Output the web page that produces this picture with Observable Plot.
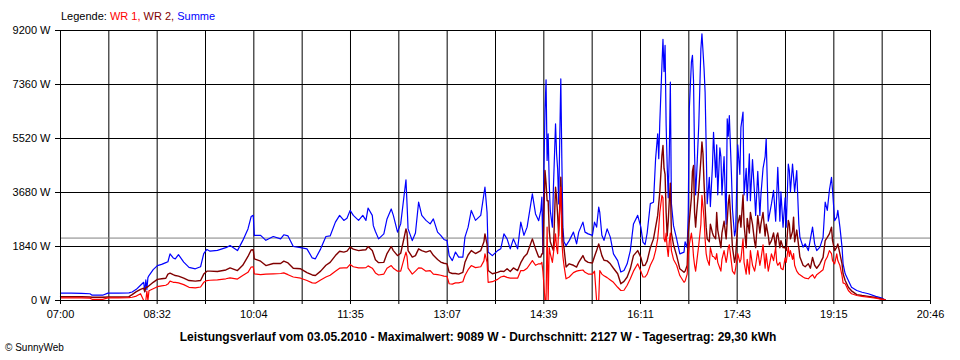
<!DOCTYPE html>
<html><head><meta charset="utf-8">
<script src="https://cdn.jsdelivr.net/npm/d3@7"></script>
<script src="https://cdn.jsdelivr.net/npm/@observablehq/plot@0.6"></script>
<style>
html,body{margin:0;padding:0;background:#fff;}
body{position:relative;width:960px;height:360px;overflow:hidden;font-family:"Liberation Sans",Arial,sans-serif;color:#000;}
#legend{position:absolute;left:61px;top:10px;font-size:11px;line-height:13px;white-space:nowrap;}
#chart{position:absolute;left:0;top:22px;}
#caption{position:absolute;left:0;top:330px;width:956px;text-align:center;font-size:12px;font-weight:bold;line-height:14px;white-space:nowrap;}
#copy{position:absolute;left:5px;top:342px;font-size:10px;line-height:12px;}
</style></head>
<body>
<div id="legend">Legende: <span style="color:#ff0000">WR 1,</span> <span style="color:#800000">WR 2,</span> <span style="color:#0000ff">Summe</span></div>
<div id="chart"></div>
<div id="caption">Leistungsverlauf vom 03.05.2010 - Maximalwert: 9089 W - Durchschnitt: 2127 W - Tagesertrag: 29,30 kWh</div>
<div id="copy">© SunnyWeb</div>
<script>
// minutes after 07:00
const minutes = [0,10,20,28,30,40,45,55,65,68,72,76,79,80,81,82,83,84,88,92,96,100,102,104,107,109,112,117,122,128,133,136,139,142,149,157,161,168,173,178,181,183,184,190,195,202,209,212,216,221,228,234,239,242,247,252,256,261,265,269,272,275,278,283,287,290,292,296,297,299,302,307,310,314,316,320,323,326,328,329,330,334,337,340,343,347,351,354,358,361,364,367,369,372,375,378,382,384,387,390,394,399,402,403,405,406,410,415,418,421,424,427,430,434,437,440,443,448,451,454,456,457,458,459,460,461,462,463,464,465,467,468,470,471,472,473,474,475,476,477,478,480,483,487,490,492,496,498,501,505,507,509,511,512,514,516,519,522,525,529,532,535,538,541,544,548,551,553,555,557,560,563,565,567,568,569,571,572,573,574,575,576,577,578,579,580,582,585,588,592,593,595,596,597,599,600,601,602,603,604,606,608,609,610,611,612,613,614,616,617,619,620,622,623,624,626,627,628,630,632,633,634,635,637,638,640,641,643,645,646,648,649,651,652,654,655,657,659,660,662,664,665,667,669,670,672,673,675,677,679,680,681,683,684,686,688,689,691,692,693,695,696,697,699,701,702,705,707,710,712,714,716,718,721,724,726,728,730,732,733,735,737,738,740,742,743,745,748,751,756,761,767,774,780,783];
// Summe (W)
const summe = [250,250,240,230,180,180,250,250,260,290,380,520,620,300,700,380,780,850,1050,1190,1230,1290,1320,1590,1450,1420,1560,1310,1130,1080,1150,1600,1740,1680,1710,1800,1870,1700,2040,2440,2860,2900,2220,2220,2050,2180,2100,2240,2200,1840,1800,1760,1450,1420,1760,2180,2200,2670,2900,2730,2800,3070,2900,2730,2900,2730,3150,2900,2550,2350,2100,2270,2780,3120,2900,2330,2610,3520,4110,3300,2440,2040,2300,3350,2900,2730,2610,2780,2330,2220,2080,2040,1530,1360,1650,1480,1480,2160,2500,3070,2730,2900,3630,3860,3000,1650,1530,1700,1760,2270,2100,1760,2100,1760,2670,2220,2500,3630,2950,2720,3060,3520,1590,4500,6470,7520,4770,5680,4000,3060,2500,3860,6020,5000,4480,3290,5500,7550,4770,2500,2000,1870,2040,2330,1930,2330,2670,2330,2270,2220,2670,2500,3180,3000,2220,2050,2440,2160,1590,1360,970,1020,1250,1700,2610,2900,2500,1990,1900,2300,3300,3350,4830,5680,4830,6080,8000,8900,7800,8690,6000,4600,3500,5000,7440,3300,2550,2100,1590,1650,2000,1800,3000,6530,8120,8350,7500,5000,3600,4300,6000,8570,9089,8500,7900,7100,5300,3300,4200,3200,4600,5730,4200,5300,3600,5200,4900,3600,4900,2600,6190,5600,6300,4300,3100,2200,2400,5300,4300,5900,6420,3600,4500,3400,5000,3400,4800,3600,2900,4400,2900,3600,4500,4900,5510,2700,2900,3290,3750,2700,3600,4540,2700,3700,2500,3500,2500,4650,4430,3700,4650,4200,3700,4430,2600,2160,1820,1930,1700,2100,2500,1930,1700,1820,2150,3350,3070,3750,4200,3750,2720,2840,3070,2500,1820,1250,910,680,450,340,280,230,140,80,20];
// WR 2 (W)
const wr2 = [130,130,130,120,110,110,120,120,130,200,300,380,420,300,450,450,470,500,620,720,740,760,900,930,880,850,830,760,680,660,680,900,1000,1000,990,1040,1110,1020,1200,1500,1720,1730,1420,1340,1190,1260,1260,1340,1280,1100,1080,950,870,850,1000,1200,1300,1530,1680,1650,1680,1820,1750,1700,1720,1730,1840,1700,1600,1390,1290,1300,1600,1840,1700,1530,1610,2100,2440,2300,1700,1480,1530,1760,1700,1650,1700,1540,1400,1310,1270,1250,960,920,920,900,960,1300,1550,1700,1600,1700,2000,2270,1900,1020,910,960,1000,990,1080,990,1110,1020,1290,1480,1590,2100,1760,1480,1480,1590,1600,3000,4430,4000,3400,3400,2400,2000,1800,1700,3860,3500,2900,2200,3200,4200,3000,2000,1800,1140,1250,1200,1140,1300,1530,1370,1300,1280,1500,1700,1930,1800,1530,1370,1350,1250,1100,910,570,650,800,1080,1530,1700,1470,1190,1200,1350,1800,2100,2500,2900,3300,3700,4940,5280,4500,4300,3000,2200,2700,3400,4000,2300,1900,1530,1080,960,1000,1200,2300,2700,3500,4400,4600,3000,2500,3000,3800,4800,5400,5000,4000,3200,2500,2100,2000,2600,2300,2200,2100,3000,2400,2000,1800,2300,2700,2100,2700,3300,3600,2400,1800,1300,1500,2600,2900,2500,3600,2600,1800,2800,2300,3000,2600,2000,1800,2900,2300,2600,3000,2200,2600,2200,1900,2040,2300,1800,2200,2300,1800,2040,1800,1800,1700,2730,2600,2100,2350,2840,2000,2400,1800,1480,1200,1150,1250,1100,1470,1200,1100,1250,1470,2040,2150,2270,2500,2040,1700,1820,1930,1590,1250,910,680,450,330,200,170,140,100,50,20];
// WR 1 (W)
const wr1 = [90,90,90,80,40,40,90,90,95,110,150,230,0,0,0,320,0,330,400,470,500,520,560,660,620,620,600,540,450,430,460,620,680,690,700,740,770,730,850,960,1140,1150,910,880,900,910,920,940,880,800,760,680,600,590,700,800,860,1000,1100,1110,1110,1230,1150,1110,1110,1120,1180,1100,1050,940,870,900,1100,1190,1100,1000,1000,1400,1650,1500,1100,900,1000,1110,1100,1000,1020,900,880,860,830,820,570,560,600,600,640,850,1050,1190,1120,1150,1350,1590,1300,620,640,720,800,830,790,760,760,760,1020,1020,1100,1360,1200,1250,1250,1300,1000,500,0,0,2500,0,1800,1600,1300,1600,2270,1800,1600,2500,3100,3860,2000,1500,1200,740,800,950,1000,1020,1040,960,900,900,1000,0,0,1020,900,840,780,700,620,450,340,350,520,740,1000,1250,1000,800,800,900,1200,1420,1700,2100,2500,3000,3580,3500,2100,2000,2300,1800,1500,2000,2300,1700,1400,1200,850,620,660,900,1500,1900,2300,2000,1500,1200,1000,1300,1900,2600,3580,3200,2800,2100,1600,1400,1200,1800,1500,1500,1400,1600,1300,1100,1000,1400,1700,1300,1500,1800,1900,1300,1000,900,1100,1600,1300,1400,2100,1300,900,1400,900,1700,1200,1000,1200,1700,1200,1400,1900,1100,1600,1000,1200,1590,1360,1800,1300,1200,1300,1100,1050,1450,1300,1820,1500,1700,1400,1600,1200,1000,900,880,800,760,740,820,880,760,880,960,1050,1360,1480,1700,1600,1360,1250,1590,1360,1190,850,600,570,340,230,170,140,110,80,40,20];
const average = 2127;
const xTicks = [0,45.89,91.78,137.67,183.56,229.44,275.33,321.22,367.11,413,458.89,504.78,550.67,596.56,642.44,688.33,734.22,780.11,826];
const xLabels = ["07:00","","08:32","","10:04","","11:35","","13:07","","14:39","","16:11","","17:43","","19:15","","20:46"];
const yTicks = [0,1840,3680,5520,7360,9200];

const labelMap = new Map(xTicks.map((t,i)=>[t,xLabels[i]]));
const mk = arr => minutes.map((m,i)=>({m, v: arr[i]}));

const chart = Plot.plot({
  width: 960, height: 304,
  marginTop: 8, marginRight: 30, marginBottom: 26, marginLeft: 60,
  style: {fontFamily: "'Liberation Sans', Arial, sans-serif", fontSize: "11px", color: "#000", background: "#fff", overflow: "visible"},
  x: {domain: [0, 826], label: null},
  y: {domain: [0, 9200], label: null},
  marks: [
    Plot.ruleX(xTicks, {stroke: "#000"}),
    Plot.ruleY(yTicks, {stroke: "#000"}),
    Plot.ruleY([average], {stroke: "#808080"}),
    Plot.line(mk(summe), {x: "m", y: "v", stroke: "#0000ff", strokeWidth: 1.2}),
    Plot.line(mk(wr2), {x: "m", y: "v", stroke: "#800000", strokeWidth: 1.4}),
    Plot.line(mk(wr1), {x: "m", y: "v", stroke: "#ff0000", strokeWidth: 1.2}),
    Plot.frame({stroke: "#000"}),
    Plot.axisX(xTicks, {tickSize: 4, tickPadding: 6, stroke: "#000", tickFormat: d => labelMap.get(d) ?? ""}),
    Plot.axisY(yTicks, {tickSize: 5, tickPadding: 5, stroke: "#000", tickFormat: d => d + " W"})
  ]
});
document.getElementById("chart").appendChild(chart);
</script>
</body></html>
